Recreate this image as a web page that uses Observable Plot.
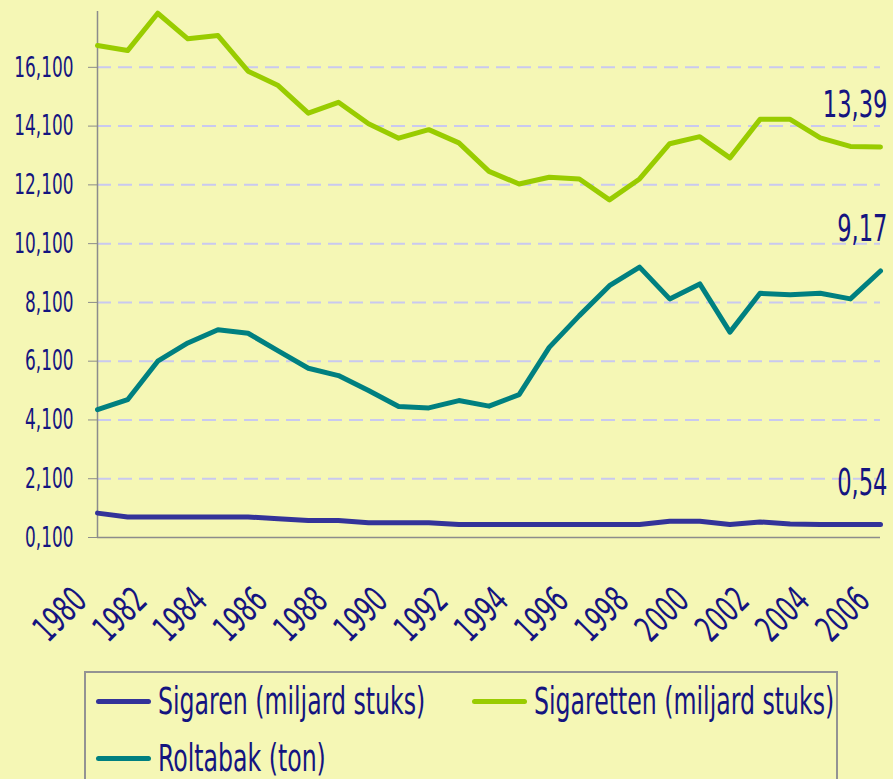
<!DOCTYPE html>
<html>
<head>
<meta charset="utf-8">
<script src="https://cdn.jsdelivr.net/npm/d3@7"></script>
<script src="https://cdn.jsdelivr.net/npm/@observablehq/plot@0.6"></script>
<style>
  html, body { margin: 0; padding: 0; background: #f5f7b5; width: 893px; height: 779px; overflow: hidden;
    font-family: "Liberation Sans Narrow", "DejaVu Sans Condensed", "Liberation Sans", sans-serif; }
  #chart { position: absolute; left: 0; top: 0; }
  #legend { position: absolute; left: 84px; top: 671px; width: 754px; height: 150px; box-sizing: border-box;
    border: 2px solid #939393; padding-left: 10px;
    display: grid; grid-template-columns: 376px 376px; grid-auto-rows: 57.3px; align-items: center; }
  .item { display: flex; align-items: center; height: 57.3px; white-space: nowrap; }
  .sw { width: 55px; height: 5px; border-radius: 3px; margin-right: 7px; flex: none; }
  .lbl { display: inline-block; font-size: 37px; line-height: 37px; color: #141480; transform: scaleX(0.71); transform-origin: left center; }
</style>
</head>
<body>
<div id="chart"></div>
<div id="legend"></div>
<script>
// ---- data ----
const years = [1980,1981,1982,1983,1984,1985,1986,1987,1988,1989,1990,1991,1992,1993,
               1994,1995,1996,1997,1998,1999,2000,2001,2002,2003,2004,2005,2006];
const sigaren = [0.93,0.80,0.80,0.80,0.80,0.80,0.74,0.68,0.68,0.60,0.60,0.60,0.54,0.54,
                 0.54,0.54,0.54,0.54,0.54,0.65,0.65,0.54,0.63,0.56,0.54,0.54,0.54];
const sigaretten = [16.84,16.67,17.94,17.07,17.18,15.97,15.48,14.54,14.91,14.18,13.69,13.98,13.53,12.56,
                    12.13,12.36,12.30,11.59,12.30,13.50,13.74,13.02,14.33,14.33,13.70,13.41,13.39];
const roltabak = [4.45,4.79,6.10,6.72,7.17,7.05,6.45,5.86,5.61,5.10,4.56,4.51,4.76,4.57,
                  4.96,6.57,7.65,8.67,9.30,8.22,8.73,7.09,8.41,8.36,8.41,8.22,9.17];
const seriesNames = ["Sigaren (miljard stuks)", "Sigaretten (miljard stuks)", "Roltabak (ton)"];
const seriesColors = ["#333399", "#99cc00", "#008080"];
const endLabels = ["0,54", "13,39", "9,17"];
const yTicks = [0.1, 2.1, 4.1, 6.1, 8.1, 10.1, 12.1, 14.1, 16.1];
const xTicks = [1980,1982,1984,1986,1988,1990,1992,1994,1996,1998,2000,2002,2004,2006];

// ---- build ----
const seriesValues = [sigaren, sigaretten, roltabak];
const rows = [];
seriesValues.forEach((vals, s) => vals.forEach((v, i) => rows.push({series: seriesNames[s], year: years[i], value: v})));
const last = seriesValues.map((vals, s) => ({series: seriesNames[s], year: years[years.length - 1], value: vals[vals.length - 1], label: endLabels[s]}));
const fmtY = v => d3.format(".3f")(v).replace(".", ",");
const ink = "#141480";
const axisGray = "#8c8c8c";

const plot = Plot.plot({
  width: 893, height: 670,
  marginLeft: 97, marginRight: 13, marginTop: 11, marginBottom: 133,
  style: {background: "transparent", fontFamily: "'Liberation Sans Narrow','DejaVu Sans Condensed','Liberation Sans',sans-serif", color: ink},
  x: {domain: [1980, 2006]},
  y: {domain: [0.1, 18]},
  color: {domain: seriesNames, range: seriesColors},
  marks: [
    Plot.ruleY(yTicks.slice(1), {stroke: "#c9c9f0", strokeWidth: 2, strokeDasharray: "14,7"}),
    Plot.ruleX([1980], {stroke: axisGray, strokeWidth: 1.5}),
    Plot.ruleY([0.1], {stroke: axisGray, strokeWidth: 1.5}),
    Plot.axisY({ticks: yTicks, tickFormat: fmtY, tickSize: 9, tickPadding: 15, stroke: axisGray, fill: ink, fontSize: 29, label: null}),
    Plot.axisX({ticks: xTicks, tickFormat: d => String(d), tickSize: 0, tickRotate: -45, tickPadding: 57, dx: -17, fill: ink, fontSize: 36, label: null}),
    Plot.lineY(rows, {x: "year", y: "value", z: "series", stroke: "series", strokeWidth: 5, strokeLinejoin: "round", strokeLinecap: "round"}),
    Plot.text(last, {x: "year", y: "value", text: "label", textAnchor: "end", lineAnchor: "bottom", dx: 7, dy: -30, fontSize: 37, fill: ink})
  ]
});

// condense glyphs horizontally (reference uses a condensed typeface)
plot.querySelectorAll("text").forEach(t => {
  const tr = t.getAttribute("transform") || "";
  const xa = t.getAttribute("x"), ya = t.getAttribute("y");
  let pre = "";
  const num = s => s !== null && /^-?[\d.]+$/.test(s);
  if (num(xa) || num(ya)) {
    pre = `translate(${num(xa) ? +xa : 0},${num(ya) ? +ya : 0})`;
    if (num(xa)) t.removeAttribute("x");
    if (num(ya)) t.removeAttribute("y");
  }
  const fs = +(t.closest("[font-size]")?.getAttribute("font-size") || 0);
  const s = fs >= 37 ? 0.68 : fs >= 36 ? 0.70 : 0.65;
  t.setAttribute("transform", `${tr} ${pre} scale(${s},1)`.trim());
});
document.getElementById("chart").appendChild(plot);

// legend
const legend = document.getElementById("legend");
seriesNames.forEach((name, i) => {
  const item = document.createElement("div");
  item.className = "item";
  const sw = document.createElement("span");
  sw.className = "sw"; sw.style.background = seriesColors[i];
  const lbl = document.createElement("span");
  lbl.className = "lbl"; lbl.textContent = name;
  item.appendChild(sw); item.appendChild(lbl);
  legend.appendChild(item);
});
</script>
</body>
</html>
